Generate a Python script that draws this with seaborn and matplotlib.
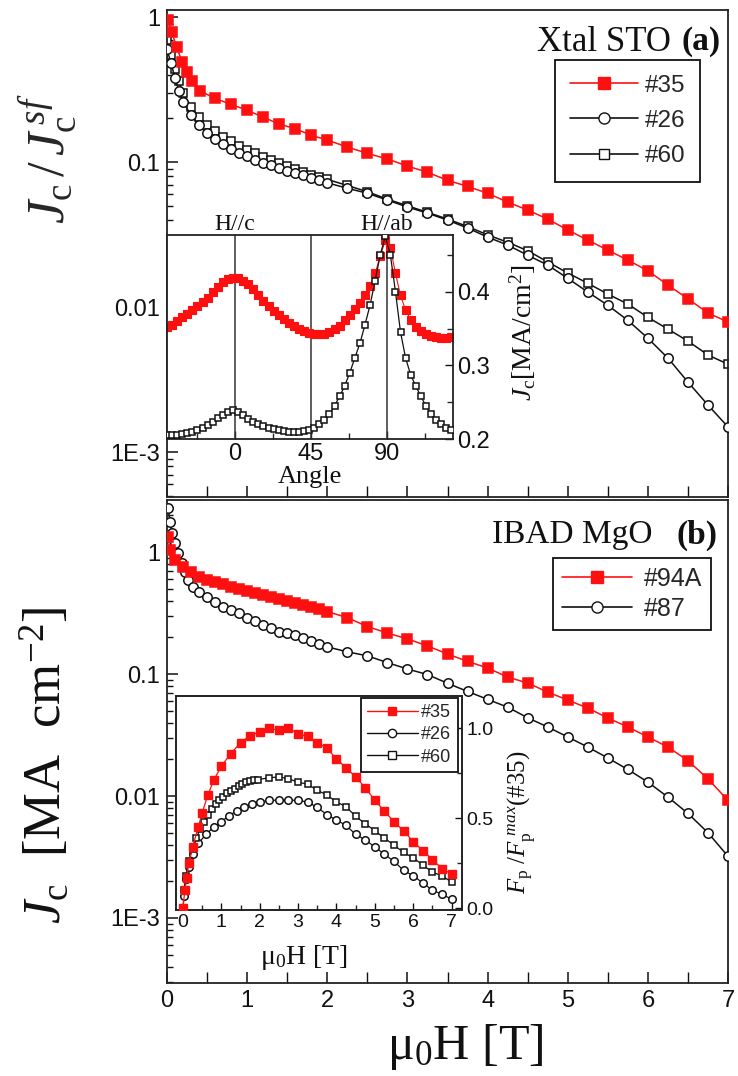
import matplotlib
matplotlib.use("Agg")
import matplotlib.pyplot as plt
import seaborn as sns
from matplotlib.lines import Line2D
from matplotlib.ticker import FixedLocator, FixedFormatter, LogLocator, NullFormatter, MultipleLocator
import matplotlib.transforms as mtrans

# ---------------- data ----------------
# Panel (a): Xtal STO, Jc/Jc(sf) vs field
field_a35 = [0.01, 0.06, 0.12, 0.19, 0.25, 0.31, 0.41, 0.6, 0.8, 1.0, 1.2, 1.4, 1.6, 1.8, 2.0,
             2.25, 2.5, 2.75, 3.0, 3.25, 3.5, 3.75, 4.0, 4.25, 4.5, 4.75, 5.0, 5.25, 5.5, 5.75,
             6.0, 6.25, 6.5, 6.75, 7.0]
jc_a35 = [0.95, 0.79, 0.62, 0.49, 0.42, 0.36, 0.31, 0.275, 0.25, 0.228, 0.204, 0.183, 0.17, 0.153, 0.142,
          0.127, 0.115, 0.105, 0.094, 0.085, 0.075, 0.068, 0.061, 0.053, 0.0467, 0.0405, 0.034, 0.029,
          0.0247, 0.0211, 0.0178, 0.0142, 0.0114, 0.0091, 0.0079]

field_a26 = [0.0, 0.05, 0.1, 0.15, 0.2, 0.3, 0.4, 0.5, 0.6, 0.7, 0.8, 0.9, 1.0, 1.1, 1.2, 1.3, 1.4,
             1.5, 1.6, 1.7, 1.8, 1.9, 2.0, 2.25, 2.5, 2.75, 3.0, 3.25, 3.5, 3.75, 4.0, 4.25, 4.5,
             4.75, 5.0, 5.25, 5.5, 5.75, 6.0, 6.25, 6.5, 6.75, 7.0]
jc_a26 = [0.60, 0.48, 0.38, 0.31, 0.26, 0.21, 0.18, 0.158, 0.145, 0.133, 0.124, 0.116, 0.110, 0.104,
          0.099, 0.095, 0.091, 0.087, 0.084, 0.081, 0.078, 0.075, 0.072, 0.066, 0.061, 0.0547, 0.049,
          0.0445, 0.0398, 0.0351, 0.0304, 0.0268, 0.0228, 0.0195, 0.0158, 0.0127, 0.0103, 0.0081,
          0.0061, 0.00445, 0.00304, 0.00211, 0.00149]

field_a60 = field_a26
jc_a60 = [0.70, 0.55, 0.44, 0.36, 0.30, 0.24, 0.205, 0.18, 0.163, 0.150, 0.139, 0.130, 0.122, 0.115,
          0.109, 0.103, 0.098, 0.094, 0.090, 0.086, 0.082, 0.079, 0.076, 0.069, 0.0625, 0.0555, 0.050,
          0.0450, 0.0405, 0.036, 0.0315, 0.028, 0.0245, 0.0205, 0.0172, 0.0146, 0.0123, 0.0105,
          0.0085, 0.00705, 0.00583, 0.00467, 0.00404]

# Inset (a): angular dependence Jc [MA/cm2]
angle = [-40, -37, -34, -31, -28, -25, -22, -19, -16, -13, -10, -7, -4, -1, 2, 5, 8, 11, 14, 17,
         20, 23, 26, 29, 32, 35, 38, 41, 44, 47, 50, 53, 56, 59, 62, 65, 68, 71, 74, 77, 80, 83,
         86, 89, 92, 95, 98, 101, 104, 107, 110, 113, 116, 119, 122, 125, 128]
jc_ang_red = [0.352, 0.355, 0.360, 0.365, 0.370, 0.375, 0.380, 0.386, 0.392, 0.400, 0.407, 0.413,
              0.417, 0.419, 0.418, 0.415, 0.410, 0.403, 0.396, 0.388, 0.381, 0.374, 0.368, 0.363,
              0.358, 0.353, 0.350, 0.346, 0.344, 0.342, 0.342, 0.343, 0.345, 0.349, 0.354, 0.361,
              0.368, 0.376, 0.385, 0.395, 0.408, 0.425, 0.448, 0.470, 0.460, 0.425, 0.395, 0.375,
              0.362, 0.352, 0.347, 0.343, 0.340, 0.338, 0.337, 0.337, 0.338]
jc_ang_black = [0.205, 0.205, 0.206, 0.207, 0.208, 0.210, 0.212, 0.215, 0.219, 0.223, 0.228, 0.233,
                0.237, 0.239, 0.237, 0.232, 0.227, 0.223, 0.220, 0.217, 0.215, 0.213, 0.212, 0.211,
                0.210, 0.210, 0.210, 0.211, 0.212, 0.215, 0.220, 0.226, 0.234, 0.245, 0.258, 0.272,
                0.290, 0.310, 0.330, 0.355, 0.382, 0.415, 0.450, 0.475, 0.450, 0.400, 0.345, 0.310,
                0.287, 0.272, 0.258, 0.245, 0.234, 0.226, 0.220, 0.215, 0.212]

# Panel (b): IBAD MgO, Jc [MA cm-2]
field_b94 = [0.01, 0.04, 0.1, 0.2, 0.3, 0.4, 0.5, 0.6, 0.7, 0.8, 0.9, 1.0, 1.1, 1.2, 1.3, 1.4, 1.5,
             1.6, 1.7, 1.8, 1.9, 2.0, 2.25, 2.5, 2.75, 3.0, 3.25, 3.5, 3.75, 4.0, 4.25, 4.5, 4.75,
             5.0, 5.25, 5.5, 5.75, 6.0, 6.25, 6.5, 6.75, 7.0]
jc_b94 = [1.33, 1.04, 0.86, 0.75, 0.68, 0.62, 0.595, 0.57, 0.545, 0.52, 0.50, 0.48, 0.465, 0.445,
          0.43, 0.415, 0.40, 0.385, 0.37, 0.355, 0.34, 0.325, 0.29, 0.245, 0.217, 0.194, 0.170,
          0.146, 0.127, 0.112, 0.0945, 0.0844, 0.0711, 0.0612, 0.0526, 0.0436, 0.0368, 0.0305,
          0.0252, 0.0195, 0.0138, 0.0092]

field_b87 = [0.01, 0.04, 0.06, 0.1, 0.14, 0.19, 0.22, 0.26, 0.32, 0.4, 0.5, 0.6, 0.7, 0.8, 0.9, 1.0,
             1.1, 1.2, 1.3, 1.4, 1.5, 1.6, 1.7, 1.8, 1.9, 2.0, 2.25, 2.5, 2.75, 3.0, 3.25, 3.5, 3.75,
             4.0, 4.25, 4.5, 4.75, 5.0, 5.25, 5.5, 5.75, 6.0, 6.25, 6.5, 6.75, 7.0]
jc_b87 = [2.3, 1.76, 1.43, 1.18, 0.98, 0.81, 0.69, 0.59, 0.52, 0.47, 0.43, 0.39, 0.355, 0.335, 0.316,
          0.29, 0.27, 0.252, 0.238, 0.223, 0.215, 0.207, 0.197, 0.185, 0.177, 0.167, 0.152, 0.141,
          0.124, 0.110, 0.099, 0.084, 0.072, 0.062, 0.0535, 0.0438, 0.0368, 0.0305, 0.0252, 0.0205,
          0.0165, 0.0130, 0.0098, 0.0072, 0.0050, 0.0032]

# Inset (b): normalized pinning force
fp_field35 = [0, 0.05, 0.1, 0.15, 0.25, 0.4, 0.5, 0.65, 0.8, 1.0, 1.25, 1.5, 1.75, 2.0, 2.25, 2.5,
              2.75, 3.0, 3.25, 3.5, 3.75, 4.0, 4.25, 4.5, 4.75, 5.0, 5.25, 5.5, 5.75, 6.0, 6.25,
              6.5, 6.75, 7.0]
fp35 = [0.0, 0.10, 0.17, 0.25, 0.34, 0.45, 0.53, 0.63, 0.71, 0.79, 0.86, 0.92, 0.96, 0.98, 1.0, 0.99,
        1.0, 0.97, 0.955, 0.92, 0.89, 0.83, 0.78, 0.73, 0.67, 0.60, 0.54, 0.48, 0.43, 0.37, 0.32,
        0.27, 0.22, 0.19]
fp_field26 = [0, 0.03, 0.08, 0.15, 0.25, 0.4, 0.6, 0.8, 1.0, 1.2, 1.4, 1.6, 1.8, 2.0, 2.25, 2.5,
              2.75, 3.0, 3.25, 3.5, 3.75, 4.0, 4.25, 4.5, 4.75, 5.0, 5.25, 5.5, 5.75, 6.0, 6.25,
              6.5, 6.75, 7.0]
fp26 = [0.0, 0.07, 0.16, 0.23, 0.30, 0.36, 0.41, 0.45, 0.48, 0.515, 0.54, 0.56, 0.58, 0.59, 0.60,
        0.60, 0.60, 0.60, 0.59, 0.56, 0.52, 0.49, 0.46, 0.41, 0.38, 0.34, 0.30, 0.26, 0.21, 0.18,
        0.14, 0.10, 0.077, 0.05]
fp_field60 = [0.03, 0.08, 0.15, 0.25, 0.35, 0.45, 0.55, 0.65, 0.75, 0.85, 0.95, 1.05, 1.15, 1.25,
              1.35, 1.45, 1.55, 1.65, 1.75, 1.85, 1.95, 2.25, 2.5, 2.75, 3.0, 3.25, 3.5, 3.75, 4.0,
              4.25, 4.5, 4.75, 5.0, 5.25, 5.5, 5.75, 6.0, 6.25, 6.5, 6.75, 7.0]
fp60 = [0.10, 0.18, 0.26, 0.33, 0.39, 0.44, 0.48, 0.52, 0.55, 0.58, 0.60, 0.62, 0.64, 0.65, 0.665,
        0.68, 0.69, 0.70, 0.705, 0.71, 0.715, 0.725, 0.73, 0.72, 0.70, 0.69, 0.655, 0.63, 0.59,
        0.565, 0.51, 0.47, 0.43, 0.39, 0.35, 0.31, 0.28, 0.24, 0.20, 0.18, 0.145]

decade_ticks = [1e-3, 1e-2, 1e-1, 1]
decade_labels = ["1E-3", "0.01", "0.1", "1"]
main_xticks = [0, 1, 2, 3, 4, 5, 6, 7]
inset_a_xticks = [0, 45, 90]
inset_a_yticks = [0.2, 0.3, 0.4]
inset_b_yticks = [0.0, 0.5, 1.0]

# ---------------- style ----------------
sns.set_style("ticks")
plt.rcParams['font.family'] = ['Liberation Sans', 'DejaVu Sans']
plt.rcParams['mathtext.fontset'] = 'custom'
plt.rcParams['mathtext.rm'] = 'Liberation Serif'
plt.rcParams['mathtext.it'] = 'Liberation Serif:italic'
plt.rcParams['mathtext.bf'] = 'Liberation Serif:bold'
plt.rcParams['axes.linewidth'] = 1.2
SERIF = ['Liberation Serif', 'DejaVu Serif']
RED = '#ff1010'
INK = '#111111'

fig = plt.figure(figsize=(7.38, 10.76), dpi=100)
axA = fig.add_axes([0.2263, 0.5381, 0.7602, 0.4526])
axB = fig.add_axes([0.2263, 0.0864, 0.7602, 0.4489])
insA = fig.add_axes([0.2263, 0.592, 0.3875, 0.1896])
insB = fig.add_axes([0.2385, 0.1543, 0.3875, 0.1989])


def style_main(ax, ylim):
    ax.set_yscale('log')
    ax.set_xlim(0, 7)
    ax.set_ylim(*ylim)
    ax.xaxis.set_major_locator(FixedLocator(main_xticks))
    ax.xaxis.set_minor_locator(MultipleLocator(0.5))
    ax.yaxis.set_major_locator(FixedLocator(decade_ticks))
    ax.yaxis.set_major_formatter(FixedFormatter(decade_labels))
    ax.yaxis.set_minor_locator(LogLocator(base=10, subs=range(2, 10)))
    ax.yaxis.set_minor_formatter(NullFormatter())
    ax.tick_params(which='major', direction='in', length=8, width=1.1, labelsize=17,
                   colors=INK, pad=5)
    ax.tick_params(which='minor', direction='in', length=4.5, width=1.0, colors=INK)
    ax.tick_params(axis='x', which='minor', length=8)
    for s in ax.spines.values():
        s.set_color('#222222')
        s.set_linewidth(1.3)
    ax.set_xlabel('')
    ax.set_ylabel('')


def curve(ax, x, y, color, marker, ms, mfc, lw=1.1, mew=1.1, z=2):
    sns.lineplot(x=x, y=y, ax=ax, color=color, marker=marker, markersize=ms,
                 markerfacecolor=mfc, markeredgecolor=color, markeredgewidth=mew,
                 linewidth=lw, zorder=z, legend=False, estimator=None, sort=False)


# ---------- panel (a) ----------
curve(axA, field_a60, jc_a60, INK, 's', 6.2, 'white', z=2)
curve(axA, field_a26, jc_a26, INK, 'o', 6.8, 'white', z=3)
curve(axA, field_a35, jc_a35, RED, 's', 6.5, RED, z=4)
style_main(axA, (4.9e-4, 1.12))
axA.tick_params(labelbottom=False)
axA.set_ylabel(r"$J_{\rm c}\,/\,J_{\rm c}^{\,sf}$", family=SERIF, fontsize=38, va='center')
axA.yaxis.set_label_coords(-0.212, 0.695)
axA.text(0.779, 0.934, "Xtal STO", transform=axA.transAxes, family=SERIF, fontsize=25,
         ha='center', va='center', color=INK)
axA.text(0.952, 0.936, "(a)", transform=axA.transAxes, family=SERIF, fontsize=24,
         fontweight='bold', ha='center', va='center', color=INK)
hA = [Line2D([], [], color=RED, marker='s', ms=8, mfc=RED, mec=RED, lw=1.2),
      Line2D([], [], color=INK, marker='o', ms=8, mfc='white', mec=INK, lw=1.2),
      Line2D([], [], color=INK, marker='s', ms=7.5, mfc='white', mec=INK, lw=1.2)]
legA = axA.legend(hA, ["#35", "#26", "#60"], loc='upper left', bbox_to_anchor=(0.6916, 0.8973),
                  fontsize=17.5, frameon=True, fancybox=False, framealpha=1, edgecolor=INK,
                  handlelength=2.8, handletextpad=0.3, labelspacing=0.55, borderpad=0.6,
                  borderaxespad=0)
legA.get_frame().set_linewidth(1.3)

# ---------- inset (a) ----------
curve(insA, angle, jc_ang_red, RED, 's', 5.6, RED, lw=0.8, mew=0.8, z=2)
curve(insA, angle, jc_ang_black, INK, 's', 4.6, 'white', lw=0.9, mew=1.1, z=3)
insA.set_xlim(-40, 129)
insA.set_ylim(0.2, 0.477)
for xv in inset_a_xticks:
    insA.axvline(xv, color='#333333', lw=1.1, zorder=1)
insA.xaxis.set_major_locator(FixedLocator(inset_a_xticks))
insA.xaxis.set_minor_locator(FixedLocator([-22.5, 22.5, 67.5, 112.5]))
insA.yaxis.set_major_locator(FixedLocator(inset_a_yticks))
insA.yaxis.set_minor_locator(FixedLocator([0.25, 0.35, 0.45]))
insA.yaxis.tick_right()
insA.yaxis.set_label_position('right')
insA.tick_params(which='major', direction='in', length=6, width=1.0, labelsize=17,
                 colors=INK, pad=3, right=True, left=False)
insA.tick_params(which='minor', direction='in', length=4, width=1.0, right=True, left=False)
insA.yaxis.set_major_formatter(FixedFormatter(["0.2", "0.3", "0.4"]))
for s in insA.spines.values():
    s.set_color('#222222')
    s.set_linewidth(1.3)
insA.set_xlabel("Angle", family=SERIF, fontsize=19, color=INK, va='center')
insA.xaxis.set_label_coords(0.5, -0.186)
insA.set_ylabel(r"$J_{\rm c}$[MA/cm$^{2}$]", family=SERIF, fontsize=20, color=INK,
                va='center')
insA.yaxis.set_label_coords(1.245, 0.52)
bt = mtrans.blended_transform_factory(insA.transData, insA.transAxes)
insA.text(0, 1.0, "H//c", transform=bt, family=SERIF, fontsize=17, ha='center', va='bottom',
          color=INK)
insA.text(90, 1.0, "H//ab", transform=bt, family=SERIF, fontsize=17, ha='center', va='bottom',
          color=INK)

# ---------- panel (b) ----------
curve(axB, field_b87, jc_b87, INK, 'o', 6.8, 'white', z=3)
curve(axB, field_b94, jc_b94, RED, 's', 6.5, RED, z=4)
style_main(axB, (2.93e-4, 2.67))
axB.set_xlabel("\u03bc$_{0}$H [T]", family=SERIF, fontsize=36, color=INK, va='center')
axB.xaxis.set_label_coords(0.531, -0.1325)
axB.set_ylabel(r"$J_{\rm c}$  [MA  cm$^{-2}$]", family=SERIF, fontsize=38, color=INK,
               va='center')
axB.yaxis.set_label_coords(-0.217, 0.45)
axB.text(0.722, 0.9275, "IBAD MgO", transform=axB.transAxes, family=SERIF, fontsize=24,
         ha='center', va='center', color=INK)
axB.text(0.945, 0.9275, "(b)", transform=axB.transAxes, family=SERIF, fontsize=24,
         fontweight='bold', ha='center', va='center', color=INK)
hB = [Line2D([], [], color=RED, marker='s', ms=8, mfc=RED, mec=RED, lw=1.2),
      Line2D([], [], color=INK, marker='o', ms=8, mfc='white', mec=INK, lw=1.2)]
legB = axB.legend(hB, ["#94A", "#87"], loc='upper left', bbox_to_anchor=(0.688, 0.880),
                  fontsize=18, frameon=True, fancybox=False, framealpha=1, edgecolor=INK,
                  handlelength=2.8, handletextpad=0.5, labelspacing=0.25, borderpad=0.35,
                  borderaxespad=0)
legB.get_frame().set_linewidth(1.3)

# ---------- inset (b) ----------
curve(insB, fp_field26, fp26, INK, 'o', 5.4, 'white', lw=0.9, mew=1.1, z=2)
curve(insB, fp_field60, fp60, INK, 's', 5.0, 'white', lw=0.9, mew=1.1, z=3)
curve(insB, fp_field35, fp35, RED, 's', 5.6, RED, lw=0.9, mew=1.0, z=4)
insB.set_xlim(-0.18, 7.27)
insB.set_ylim(-0.01, 1.18)
insB.xaxis.set_major_locator(FixedLocator(main_xticks))
insB.xaxis.set_minor_locator(MultipleLocator(0.5))
insB.yaxis.set_major_locator(FixedLocator(inset_b_yticks))
insB.yaxis.set_major_formatter(FixedFormatter(["0.0", "0.5", "1.0"]))
insB.yaxis.set_minor_locator(MultipleLocator(0.25))
insB.yaxis.tick_right()
insB.yaxis.set_label_position('right')
insB.tick_params(which='major', direction='in', length=5, width=1.0, labelsize=14,
                 colors=INK, pad=3, right=True, left=False)
insB.tick_params(which='minor', direction='in', length=3.5, width=1.0, right=True, left=False)
for s in insB.spines.values():
    s.set_color('#222222')
    s.set_linewidth(1.4)
insB.set_xlabel("\u03bc$_{0}$H [T]", family=SERIF, fontsize=20, color=INK, va='center')
insB.xaxis.set_label_coords(0.448, -0.224)
insB.set_ylabel(r"$F_{\rm p}\ /F_{\rm p}^{\ max}$(#35)", family=SERIF, fontsize=18, color=INK,
                va='center')
insB.yaxis.set_label_coords(1.21, 0.41)
hI = [Line2D([], [], color=RED, marker='s', ms=6, mfc=RED, mec=RED, lw=1.0),
      Line2D([], [], color=INK, marker='o', ms=6, mfc='white', mec=INK, lw=1.0),
      Line2D([], [], color=INK, marker='s', ms=5.5, mfc='white', mec=INK, lw=1.0)]
legI = insB.legend(hI, ["#35", "#26", "#60"], loc='upper right', bbox_to_anchor=(0.985, 0.99),
                   fontsize=13, frameon=True, fancybox=False, framealpha=1, edgecolor=INK,
                   handlelength=2.8, handletextpad=0.2, labelspacing=0.28, borderpad=0.35,
                   borderaxespad=0)
legI.get_frame().set_linewidth(1.3)

fig.savefig("out.png", dpi=100)
